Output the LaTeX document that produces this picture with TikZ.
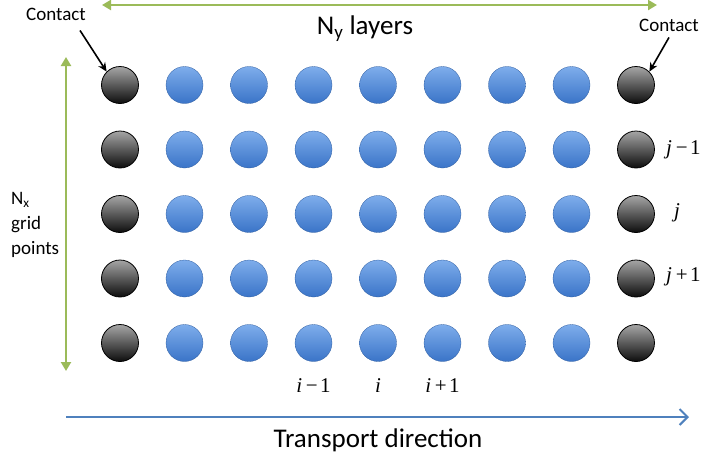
\documentclass[tikz,border=0pt]{standalone}
\usepackage{fontspec}
\setmainfont{Carlito}
\newfontfamily\idxfont{Liberation Serif}
\usetikzlibrary{arrows.meta}
\definecolor{lgreen}{HTML}{9BBB59}
\definecolor{lblue}{HTML}{4F81BD}
\definecolor{ballhi}{HTML}{7EADEB}
\definecolor{balllo}{HTML}{3A74C8}
\newcommand{\idx}[1]{\textit{#1}}
\newcommand{\idxop}[1]{\hspace{0.18em}#1\hspace{0.12em}}
\tikzset{
  site/.style={circle, minimum size=37pt, inner sep=0pt, draw=balllo!80!black, line width=0.3pt,
    top color=ballhi, bottom color=balllo},
  contactsite/.style={circle, minimum size=37pt, inner sep=0pt, draw=black, line width=0.8pt,
    top color=black!35, bottom color=black!95},
  greenarrow/.style={draw=lgreen, line width=2.6pt},
  lbl/.style={inner sep=0pt, font=\fontsize{19}{21}\selectfont},
  mlbl/.style={inner sep=0pt, font=\idxfont\fontsize{21}{23}\selectfont},
}
\begin{document}
\begin{tikzpicture}[x=1pt,y=-1pt]
\useasboundingbox (0,0) rectangle (704,459);

% lattice of sites: contacts in the first and last column
\foreach \r/\yy in {1/85,2/149.5,3/214,4/278.5,5/343}{
  \foreach \c/\xx in {1/120,2/184.5,3/249,4/313.5,5/378,6/442.5,7/507,8/571.5,9/636}{
    \ifnum\c=1
      \node[contactsite] (s-\r-\c) at (\xx,\yy) {};
    \else\ifnum\c=9
      \node[contactsite] (s-\r-\c) at (\xx,\yy) {};
    \else
      \node[site] (s-\r-\c) at (\xx,\yy) {};
    \fi\fi
  }
}

% layer arrow along the top
\coordinate (ytl) at (102,5);
\coordinate (ytr) at (657,5);
\draw[greenarrow, {Triangle[length=9pt,width=10pt]}-{Triangle[length=9pt,width=10pt]}] (ytl) -- (ytr);
\node[inner sep=0pt, font=\fontsize{27}{29}\selectfont] (ny) at (365,29) {N\textsubscript{y} layers};

% grid-point arrow on the left
\coordinate (xtop) at (66,57);
\coordinate (xbot) at (66,371);
\draw[greenarrow, {Triangle[length=9pt,width=10pt]}-{Triangle[length=9pt,width=10pt]}] (xtop) -- (xbot);
\node[lbl, align=left, anchor=west, font=\fontsize{19}{25}\selectfont] (nx) at (11,225) {N\textsubscript{x}\\grid\\points};

% contact labels
\node[lbl] (cl) at (56,14) {Contact};
\node[lbl] (cr) at (669,25) {Contact};
\draw[line width=1.6pt, -{Stealth[length=9pt,width=8pt]}] (cl.south) ++(24,10) coordinate (clfoot) -- (s-1-1.north west);
\draw[line width=1.6pt, -{Stealth[length=9pt,width=8pt]}] (cr.south) ++(0,6) coordinate (crfoot) -- (s-1-9.north east);

% row indices
\node[mlbl, anchor=west] (jm) at (666,150) {\idx{j}\idxop{−}1};
\node[mlbl, anchor=west] (j0) at (674,213) {\idx{j}};
\node[mlbl, anchor=west] (jp) at (666,277) {\idx{j}\idxop{+}1};

% column indices
\node[mlbl] (im) at (313.5,386) {\idx{i}\idxop{−}1};
\node[mlbl] (i0) at (378,386) {\idx{i}};
\node[mlbl] (ip) at (442.5,386) {\idx{i}\idxop{+}1};

% transport direction
\coordinate (tl) at (66,417);
\coordinate (tr) at (689,417);
\draw[draw=lblue, line width=2pt, -{Straight Barb[length=8pt,width=16pt,line width=2pt]}] (tl) -- (tr);
\node[inner sep=0pt, font=\fontsize{27}{29}\selectfont] (td) at (378,440) {Transport direction};
\end{tikzpicture}
\end{document}
